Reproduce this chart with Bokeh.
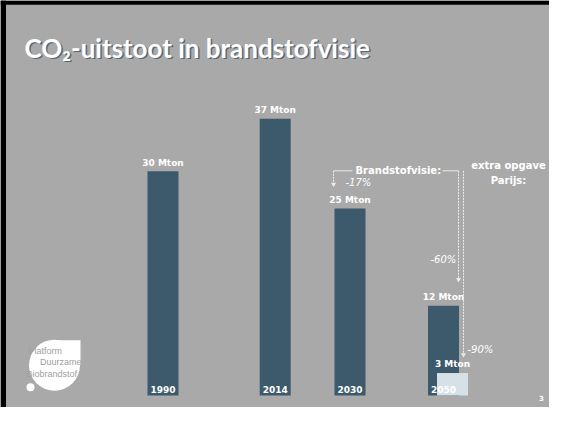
from bokeh.plotting import figure
from bokeh.models import ColumnDataSource, Range1d
from bokeh.core.properties import value
from bokeh.embed import file_html
from bokeh.resources import INLINE

# ---- data ----
years = [1990, 2014, 2030, 2050]
year_labels = ["1990", "2014", "2030", "2050"]
mton = [30, 37, 25, 12]
mton_labels = ["30 Mton", "37 Mton", "25 Mton", "12 Mton"]
paris_year = [2050]
paris_mton = [3]
paris_labels = ["3 Mton"]
title_text = "CO\u2082-uitstoot in brandstofvisie"

# ---- styling / layout constants ----
BG = "#a9a9a9"
BAR = "#3c5a6b"
LIGHT = "#d5e1e7"
ANN = "#ececec"
PX_PER_YEAR = 4.675
PX_PER_MTON = 7.77
X_1990 = 162.5
BASE_Y = 410.5
W, H = 549, 407
REF_H = 423


def X(px):
    return 1990 + (px - X_1990) / PX_PER_YEAR


def Y(py):
    return (BASE_Y - py) / PX_PER_MTON


bar_w = 31 / PX_PER_YEAR
paris_dodge = 9 / PX_PER_YEAR
label_gap = 9 / PX_PER_MTON
year_lift = 6 / PX_PER_MTON

p = figure(width=W, height=H, output_backend="svg", toolbar_location=None,
           x_range=Range1d(X(0), X(W)), y_range=Range1d(Y(REF_H), Y(0)),
           min_border=0)
p.axis.visible = False
p.grid.visible = False
p.outline_line_color = None
p.background_fill_color = BG
p.border_fill_color = BG

# slide frame (black edges top and left)
p.quad(left=[X(0)], right=[X(W)], top=[Y(0)], bottom=[Y(4.5)],
       fill_color="black", line_color=None)
p.quad(left=[X(0)], right=[X(5.5)], top=[Y(0)], bottom=[Y(REF_H)],
       fill_color="black", line_color=None)

src = ColumnDataSource(dict(x=years, top=mton, lab=mton_labels,
                            ly=[v + label_gap for v in mton],
                            yl=year_labels, yy=[year_lift] * len(years)))
px = [y + paris_dodge for y in paris_year]
psrc = ColumnDataSource(dict(x=px, top=paris_mton, lab=paris_labels,
                             ly=[v + label_gap for v in paris_mton]))

p.vbar(x="x", top="top", bottom=0, width=bar_w, source=src,
       fill_color=BAR, line_color=None)
p.vbar(x="x", top="top", bottom=0, width=bar_w, source=psrc,
       fill_color=LIGHT, line_color=None)

lab_font = value("DejaVu Sans")
p.text(x="x", y="ly", text="lab", source=src, text_font=lab_font,
       text_font_style="bold", text_font_size="9px", text_color="white",
       text_align="center", text_baseline="middle")
p.text(x="x", y="ly", text="lab", source=psrc, text_font=lab_font,
       text_font_style="bold", text_font_size="9px", text_color="white",
       text_align="center", text_baseline="middle")
p.text(x="x", y="yy", text="yl", source=src, text_font=lab_font,
       text_font_style="bold", text_font_size="9px", text_color="white",
       text_align="center", text_baseline="middle")

# ---- title with shadow ----
for dx, dy, col in [(1.5, 1.5, "#5a6670"), (0, 0, "white")]:
    p.text(x=[X(24 + dx)], y=[Y(49 + dy)], text=[title_text],
           text_font=value("Lato"), text_font_style="bold",
           text_font_size="26px", text_color=col, text_align="left",
           text_baseline="middle")

# ---- annotations ----
p.line([X(333), X(352)], [Y(177), Y(177)], line_color=ANN, line_width=1)
p.line([X(442), X(458)], [Y(177), Y(177)], line_color=ANN, line_width=1)
p.line([X(333), X(333)], [Y(177), Y(190)], line_color=ANN, line_width=1,
       line_dash="2 1")
p.line([X(458), X(458)], [Y(177), Y(289)], line_color=ANN, line_width=1,
       line_dash="2 1")
p.line([X(463), X(463)], [Y(177), Y(367)], line_color=ANN, line_width=1,
       line_dash="2 1")
p.scatter([X(333), X(458), X(463)], [Y(191), Y(290), Y(368)],
          marker="inverted_triangle", size=5, fill_color=ANN, line_color=None)

bold_kw = dict(text_font=lab_font, text_font_style="bold",
               text_font_size="10px", text_color="white",
               text_baseline="middle")
p.text(x=[X(355)], y=[Y(177)], text=["Brandstofvisie:"], text_align="left",
       **bold_kw)
p.text(x=[X(508), X(508)], y=[Y(172), Y(187)], text=["extra opgave", "Parijs:"],
       text_align="center", **bold_kw)

pct_kw = dict(text_font=lab_font, text_font_style="italic",
              text_font_size="10px", text_color="white",
              text_baseline="middle", text_align="left")
p.text(x=[X(345), X(430), X(467)], y=[Y(189), Y(269), Y(363)],
       text=["-17%", "-60%", "-90%"], **pct_kw)

# page number
p.text(x=[X(541)], y=[Y(413)], text=["3"], text_font=lab_font,
       text_font_style="bold", text_font_size="7px", text_color="white",
       text_align="center", text_baseline="middle")

# ---- logo ----
p.scatter([X(54)], [Y(379)], marker="circle", size=51, fill_color="white",
          line_color=None)
p.quad(left=[X(54)], right=[X(80)], top=[Y(353)], bottom=[Y(379)],
       fill_color="white", line_color=None)
p.scatter([X(30)], [Y(402)], marker="circle", size=8, fill_color="white",
          line_color=None)
logo_kw = dict(text_font=value("Liberation Sans"), text_font_size="9px",
               text_color="#a0a0a0", text_baseline="middle")
p.text(x=[X(28)], y=[Y(364)], text=["Platform"], text_align="left", **logo_kw)
p.text(x=[X(81)], y=[Y(376)], text=["Duurzame"], text_align="right", **logo_kw)
p.text(x=[X(26)], y=[Y(388)], text=["Biobrandstof"], text_align="left", **logo_kw)

open("out.html", "w").write(file_html(p, INLINE))
